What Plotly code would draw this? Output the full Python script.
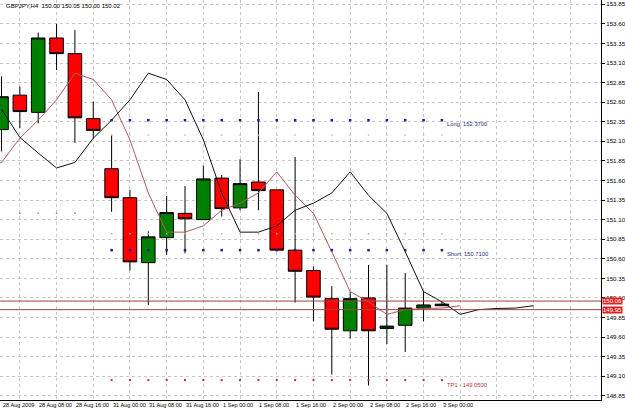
import plotly.graph_objects as go

# ---------------- data ----------------
tick_labels = ["28 Aug 2009", "28 Aug 08:00", "28 Aug 16:00", "31 Aug 00:00",
               "31 Aug 08:00", "31 Aug 16:00", "1 Sep 00:00", "1 Sep 08:00",
               "1 Sep 16:00", "2 Sep 00:00", "2 Sep 08:00", "2 Sep 16:00",
               "3 Sep 00:00"]
tick_bars = [0, 2, 4, 6, 8, 10, 12, 14, 16, 18, 20, 22, 24]

bar_index = list(range(25))
opens = [152.25, 152.69, 152.47, 153.42, 153.22, 152.39, 151.75, 151.38, 150.55,
         150.87, 151.18, 151.10, 151.63, 151.25, 151.58, 151.48, 150.71, 150.45,
         150.09, 149.68, 150.10, 149.71, 149.75, 149.97, 150.00]
highs = [152.93, 152.80, 153.49, 153.60, 153.52, 152.61, 152.18, 151.48, 150.95,
         151.40, 151.53, 151.79, 151.67, 151.87, 152.73, 151.48, 151.90, 150.50,
         150.25, 150.18, 150.52, 150.52, 150.42, 150.18, 150.05]
lows = [151.97, 152.27, 152.33, 153.01, 152.08, 152.14, 151.20, 150.45, 150.01,
        150.65, 150.67, 151.10, 151.14, 151.22, 151.22, 150.70, 150.04, 149.80,
        149.12, 149.58, 148.98, 149.51, 149.41, 149.80, 150.00]
closes = [152.67, 152.48, 153.42, 153.22, 152.40, 152.24, 151.38, 150.56, 150.88,
          151.19, 151.11, 151.62, 151.24, 151.56, 151.47, 150.71, 150.44, 150.11,
          149.70, 150.09, 149.68, 149.74, 149.97, 150.01, 150.02]

# moving average values for bars -5 .. 24
ma_first_bar = -5
ma_values = [152.51, 152.15, 151.95, 151.76, 151.83, 152.14, 152.37, 152.63, 152.97,
             152.89, 152.63, 152.12, 151.44, 150.94, 150.94, 151.02, 151.22, 151.31,
             151.44, 151.71, 151.41, 151.18, 150.69, 150.18, 150.05, 149.89, 149.95,
             149.965, 149.97, 150.00]
black_shift = 5
brown_shift = 1

level_bars = list(range(6, 25))
long_level = 152.37
short_level = 150.71
tp1_level = 149.05
stop_long_level = 152.18
stop_short_level = 150.92
early_bars = [1, 2, 3, 4]
early_level = 151.18
hline_levels = [150.06, 149.95]
hline_labels = ["150.06", "149.95"]

y_ticks = [round(148.85 + 0.25 * k, 2) for k in range(21)]
title_text = "GBPJPY,H4  150.00 150.05 150.00 150.02"

FONT = "Liberation Sans"

fig = go.Figure()

# moving averages
ma_x = [ma_first_bar + k for k in range(len(ma_values))]
fig.add_trace(go.Scatter(x=[v + brown_shift for v in ma_x], y=ma_values, mode="lines",
                         line=dict(color="#b05a5a", width=1), hoverinfo="skip"))
fig.add_trace(go.Scatter(x=[v + black_shift for v in ma_x], y=ma_values, mode="lines",
                         line=dict(color="#101010", width=1), hoverinfo="skip"))

# level dots
for lvl, col, bars, sz in [(long_level, "#1c1c8c", level_bars, 2.5),
                           (short_level, "#1c1c8c", level_bars, 2.5),
                           (tp1_level, "#c03030", level_bars, 2),
                           (stop_long_level, "#d8b890", level_bars, 1.5),
                           (stop_short_level, "#90c890", level_bars, 1.5),
                           (early_level, "#909090", early_bars, 1.5)]:
    fig.add_trace(go.Scatter(x=bars, y=[lvl] * len(bars), mode="markers",
                             marker=dict(symbol="square", size=sz, color=col, line=dict(width=0)),
                             hoverinfo="skip"))

# horizontal lines
for lvl in hline_levels:
    fig.add_hline(y=lvl, line=dict(color="#a04040", width=1))

# candles
fig.add_trace(go.Candlestick(
    x=bar_index, open=opens, high=highs, low=lows, close=closes,
    increasing=dict(line=dict(color="#000000", width=1), fillcolor="#008000"),
    decreasing=dict(line=dict(color="#000000", width=1), fillcolor="#ff0000"),
    whiskerwidth=0, hoverinfo="skip"))

# x labels
for b, t in zip(tick_bars, tick_labels):
    fig.add_annotation(x=b, y=0, xref="x", yref="paper", text=t, showarrow=False,
                       xanchor="left", yanchor="top", xshift=-1, yshift=0,
                       font=dict(family=FONT, size=5.6, color="#000000"))

# level texts
fig.add_annotation(x=level_bars[-1], y=long_level, text="Long: 152.3700", showarrow=False,
                   xanchor="left", yanchor="middle", xshift=3, yshift=-4,
                   font=dict(family=FONT, size=5.8, color="#2a2a8a"))
fig.add_annotation(x=level_bars[-1], y=short_level, text="Short: 150.7100", showarrow=False,
                   xanchor="left", yanchor="middle", xshift=3, yshift=-4,
                   font=dict(family=FONT, size=5.8, color="#2a2a8a"))
fig.add_annotation(x=level_bars[-1], y=tp1_level, text="TP1 - 149.0500", showarrow=False,
                   xanchor="left", yanchor="middle", xshift=3, yshift=-5,
                   font=dict(family=FONT, size=5.8, color="#c03030"))

# price boxes on right axis
for lvl, t in zip(hline_levels, hline_labels):
    fig.add_annotation(x=1, y=lvl, xref="paper", text=t, showarrow=False,
                       xanchor="left", yanchor="middle", xshift=1,
                       bgcolor="#e02020", borderpad=0,
                       font=dict(family=FONT, size=6, color="#ffffff"))

# title
fig.add_annotation(x=0, y=1, xref="paper", yref="paper", text=title_text, showarrow=False,
                   xanchor="left", yanchor="top", xshift=4, yshift=-1,
                   font=dict(family=FONT, size=6, color="#000000"))

fig.update_layout(
    width=625, height=409,
    margin=dict(l=0, r=24, t=0, b=9),
    paper_bgcolor="#ffffff", plot_bgcolor="#ffffff",
    showlegend=False,
    boxgap=0.26, boxgroupgap=0,
    xaxis=dict(range=[-0.082, 32.67], rangeslider=dict(visible=False),
               tickvals=[i + 1 for i in range(0, 33, 2)], showticklabels=False,
               ticks="", showgrid=True, gridcolor="#c8c8c8", griddash="3px,3px",
               gridwidth=1, zeroline=False, showline=True, linecolor="#000000",
               linewidth=1),
    yaxis=dict(range=[148.796, 153.905], side="right", tickvals=y_ticks,
               ticktext=[f"{v:.2f}" for v in y_ticks], ticks="outside", ticklen=3,
               tickcolor="#000000", tickfont=dict(family=FONT, size=6.2, color="#000000"),
               showgrid=True, gridcolor="#c8c8c8", griddash="3px,3px", gridwidth=1,
               zeroline=False, showline=True, linecolor="#000000", linewidth=1),
)

fig.write_html("out.html")
